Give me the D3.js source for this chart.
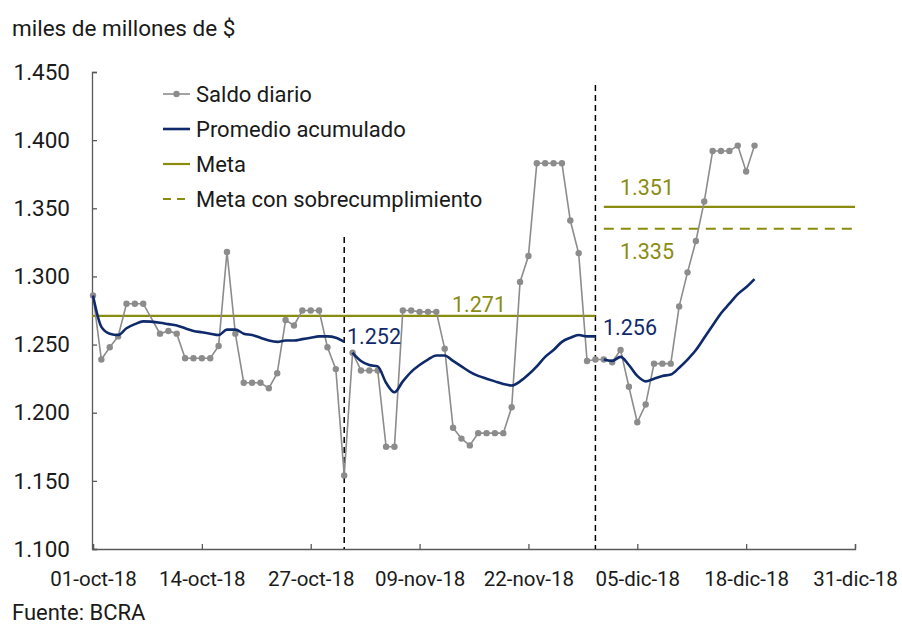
<!DOCTYPE html>
<html>
<head>
<meta charset="utf-8">
<script src="https://cdn.jsdelivr.net/npm/d3@7"></script>
<style>
  html, body { margin: 0; padding: 0; background: #fff; }
  svg { display: block; }
</style>
</head>
<body>
<div id="chart"></div>
<script>
// daily balance and month-to-date average
const diasOct = [1, 2, 3, 4, 5, 6, 7, 9, 10, 11, 12, 13, 14, 15, 16, 17, 18, 19, 20, 21, 22, 23, 24, 25, 26, 27, 28, 29, 30, 31];
const saldoOct = [1.286, 1.239, 1.248, 1.256, 1.280, 1.280, 1.280, 1.258, 1.260, 1.258, 1.240, 1.240, 1.240, 1.240, 1.249, 1.318, 1.258, 1.222, 1.222, 1.222, 1.218, 1.229, 1.268, 1.264, 1.275, 1.275, 1.275, 1.248, 1.232, 1.154];
const promOct = [1.286, 1.263, 1.258, 1.257, 1.262, 1.265, 1.267, 1.266, 1.265, 1.264, 1.262, 1.260, 1.259, 1.258, 1.257, 1.261, 1.261, 1.258, 1.257, 1.255, 1.253, 1.252, 1.253, 1.253, 1.254, 1.255, 1.256, 1.256, 1.255, 1.252];

const diasNov = [1, 2, 3, 4, 5, 6, 7, 8, 9, 10, 11, 12, 13, 14, 15, 16, 17, 18, 19, 20, 21, 22, 23, 24, 25, 26, 27, 28, 29, 30];
const saldoNov = [1.244, 1.231, 1.231, 1.231, 1.175, 1.175, 1.275, 1.275, 1.274, 1.274, 1.274, 1.247, 1.189, 1.181, 1.176, 1.185, 1.185, 1.185, 1.185, 1.204, 1.296, 1.315, 1.383, 1.383, 1.383, 1.383, 1.341, 1.317, 1.238, 1.239];
const promNov = [1.244, 1.238, 1.235, 1.234, 1.222, 1.215, 1.223, 1.230, 1.235, 1.239, 1.242, 1.242, 1.238, 1.234, 1.230, 1.227, 1.225, 1.223, 1.221, 1.220, 1.223, 1.228, 1.234, 1.241, 1.246, 1.252, 1.255, 1.257, 1.256, 1.256];

const diasDic = [1, 2, 3, 4, 5, 6, 7, 8, 9, 10, 11, 12, 13, 14, 15, 16, 17, 18, 19];
const saldoDic = [1.239, 1.237, 1.246, 1.219, 1.193, 1.206, 1.236, 1.236, 1.236, 1.278, 1.303, 1.326, 1.355, 1.392, 1.392, 1.392, 1.396, 1.377, 1.396];
const promDic = [1.239, 1.238, 1.241, 1.235, 1.227, 1.223, 1.225, 1.227, 1.228, 1.233, 1.239, 1.246, 1.255, 1.264, 1.273, 1.280, 1.287, 1.292, 1.298];

// targets
const metaOctNov = 1.271;
const metaDic = 1.351;
const metaSobre = 1.335;
const cierreOct = 1.252;
const cierreNov = 1.256;

const yTicks = [1.100, 1.150, 1.200, 1.250, 1.300, 1.350, 1.400, 1.450];
const xTickDates = ['2018-10-01', '2018-10-14', '2018-10-27', '2018-11-09', '2018-11-22', '2018-12-05', '2018-12-18', '2018-12-31'];
const mesesCortos = ['ene', 'feb', 'mar', 'abr', 'may', 'jun', 'jul', 'ago', 'sep', 'oct', 'nov', 'dic'];

const FONT = 'Roboto, "Noto Sans", sans-serif';
const GREY = '#8c8c8c', NAVY = '#0f2a6b', OLIVE = '#8a8c10', INK = '#1a1a1a';

const W = 902, H = 624;
const svg = d3.select('#chart').append('svg').attr('width', W).attr('height', H);

const day = (m, d) => new Date(2018, m, d);
const x = d3.scaleTime().domain([day(9, 1), day(11, 31)]).range([93, 855]);
const y = d3.scaleLinear().domain([1.1, 1.45]).range([549, 72]);

const toPts = (m, dias, vals) => dias.map((d, i) => ({ date: day(m, d), v: vals[i] }));
const saldo = [...toPts(9, diasOct, saldoOct), ...toPts(10, diasNov, saldoNov), ...toPts(11, diasDic, saldoDic)];
const promedios = [toPts(9, diasOct, promOct), toPts(10, diasNov, promNov), toPts(11, diasDic, promDic)];

// axes
const yAxis = svg.append('g').attr('transform', 'translate(92,0)')
  .call(d3.axisLeft(y).tickValues(yTicks).tickSize(-5).tickPadding(22).tickFormat(d3.format('.3f')));
yAxis.select('.domain').attr('stroke', '#595959').attr('stroke-width', 1.3);
yAxis.selectAll('.tick line').attr('stroke', '#595959').attr('stroke-width', 1.3);
yAxis.selectAll('text').attr('font-family', FONT).attr('font-size', 22.5).attr('fill', INK);

const fmtFecha = (d) => `${String(d.getDate()).padStart(2, '0')}-${mesesCortos[d.getMonth()]}-${String(d.getFullYear()).slice(2)}`;
const xAxis = svg.append('g').attr('transform', 'translate(0,549)')
  .call(d3.axisBottom(x).tickValues(xTickDates.map((s) => new Date(s + 'T00:00:00'))).tickSize(-5).tickPadding(22).tickFormat(fmtFecha));
xAxis.select('.domain').attr('stroke', '#595959').attr('stroke-width', 1.3);
xAxis.selectAll('.tick line').attr('stroke', '#595959').attr('stroke-width', 1.3);
xAxis.selectAll('text').attr('font-family', FONT).attr('font-size', 20.5).attr('fill', INK);

// month separators
svg.append('line').attr('x1', x(day(9, 31))).attr('x2', x(day(9, 31))).attr('y1', 237).attr('y2', 549)
  .attr('stroke', '#000').attr('stroke-width', 1.5).attr('stroke-dasharray', '6,4');
svg.append('line').attr('x1', x(day(10, 30))).attr('x2', x(day(10, 30))).attr('y1', 85).attr('y2', 549)
  .attr('stroke', '#000').attr('stroke-width', 1.5).attr('stroke-dasharray', '6,4');

// targets
svg.append('line').attr('x1', 92).attr('x2', x(day(10, 30))).attr('y1', y(metaOctNov)).attr('y2', y(metaOctNov))
  .attr('stroke', OLIVE).attr('stroke-width', 2.2);
svg.append('line').attr('x1', x(day(11, 1))).attr('x2', x(day(11, 31))).attr('y1', y(metaDic)).attr('y2', y(metaDic))
  .attr('stroke', OLIVE).attr('stroke-width', 2.2);
svg.append('line').attr('x1', x(day(11, 1))).attr('x2', x(day(11, 31))).attr('y1', y(metaSobre)).attr('y2', y(metaSobre))
  .attr('stroke', OLIVE).attr('stroke-width', 2.2).attr('stroke-dasharray', '10,7');

// daily balance
svg.append('path').datum(saldo)
  .attr('d', d3.line().x((d) => x(d.date)).y((d) => y(d.v)))
  .attr('fill', 'none').attr('stroke', GREY).attr('stroke-width', 1.6);
svg.append('g').selectAll('circle').data(saldo).join('circle')
  .attr('cx', (d) => x(d.date)).attr('cy', (d) => y(d.v)).attr('r', 3.2).attr('fill', GREY);

// month-to-date average, one path per month
svg.append('g').selectAll('path').data(promedios).join('path')
  .attr('d', d3.line().x((d) => x(d.date)).y((d) => y(d.v)).curve(d3.curveMonotoneX))
  .attr('fill', 'none').attr('stroke', NAVY).attr('stroke-width', 2.6);

// value labels
const lab = (tx, ty, t, col) => svg.append('text').attr('x', tx).attr('y', ty)
  .attr('font-family', FONT).attr('font-size', 21.5).attr('fill', col).text(t);
lab(452, 312, d3.format('.3f')(metaOctNov), OLIVE);
lab(620, 195, d3.format('.3f')(metaDic), OLIVE);
lab(620, 259, d3.format('.3f')(metaSobre), OLIVE);
lab(347, 344, d3.format('.3f')(cierreOct), NAVY);
lab(603, 335, d3.format('.3f')(cierreNov), NAVY);

// legend
const leg = svg.append('g').attr('transform', 'translate(163,94)');
[
  { t: 'Saldo diario', c: GREY, w: 1.6, dash: null, dot: true },
  { t: 'Promedio acumulado', c: NAVY, w: 2.6, dash: null },
  { t: 'Meta', c: OLIVE, w: 2.2, dash: null },
  { t: 'Meta con sobrecumplimiento', c: OLIVE, w: 2.2, dash: '8,6' },
].forEach((d, i) => {
  const g = leg.append('g').attr('transform', `translate(0,${i * 35})`);
  g.append('line').attr('x1', 0).attr('x2', 27).attr('stroke', d.c).attr('stroke-width', d.w)
    .attr('stroke-dasharray', d.dash);
  if (d.dot) g.append('circle').attr('cx', 13.5).attr('r', 3.2).attr('fill', d.c);
  g.append('text').attr('x', 33).attr('y', 8).attr('font-family', FONT).attr('font-size', 22)
    .attr('fill', INK).text(d.t);
});

// title and source
svg.append('text').attr('x', 12).attr('y', 36).attr('font-family', FONT).attr('font-size', 22.5)
  .attr('fill', INK).text('miles de millones de $');
svg.append('text').attr('x', 12).attr('y', 620).attr('font-family', FONT).attr('font-size', 22)
  .attr('fill', INK).text('Fuente: BCRA');
</script>
</body>
</html>
